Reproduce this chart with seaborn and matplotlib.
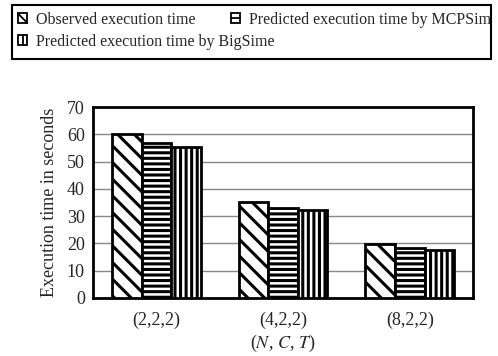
import matplotlib
matplotlib.use("Agg")
import matplotlib.pyplot as plt
import seaborn as sns
import pandas as pd
import numpy as np
from matplotlib.patches import Patch, Rectangle
from matplotlib.lines import Line2D
from matplotlib.legend_handler import HandlerBase

categories = ["(2,2,2)", "(4,2,2)", "(8,2,2)"]
series_names = ["Observed execution time",
                "Predicted execution time by MCPSim",
                "Predicted execution time by BigSime"]
observed = [60.1, 35.1, 19.7]
mcpsim = [57.0, 32.9, 18.3]
bigsime = [55.2, 32.1, 17.7]
hatches = ["\\\\", "---", "|||"]
legend_kinds = ["diag", "horiz", "vert"]

rows = []
for name, vals in zip(series_names, [observed, mcpsim, bigsime]):
    for c, v in zip(categories, vals):
        rows.append({"config": c, "series": name, "time": v})
df = pd.DataFrame(rows)

sns.set_style("white")
plt.rcParams["font.family"] = ["Liberation Serif", "DejaVu Serif"]
plt.rcParams["mathtext.fontset"] = "stix"
plt.rcParams["hatch.linewidth"] = 2.2
plt.rcParams["hatch.color"] = "black"

fig = plt.figure(figsize=(4.98, 3.56), dpi=100)
ax = fig.add_axes([0.187, 0.163, 0.763, 0.536])

sns.barplot(data=df, x="config", y="time", hue="series", order=categories,
            hue_order=series_names, palette=["white"] * 3, edgecolor="black",
            linewidth=2, width=0.70, ax=ax, legend=False, errorbar=None,
            saturation=1, zorder=3)

for cont, h in zip(ax.containers, hatches):
    for p in cont:
        p.set_hatch(h)
        p.set_facecolor("white")
        p.set_edgecolor("black")
        p.set_linewidth(2)

ax.set_ylim(0, 70)
ax.set_yticks(range(0, 71, 10))
ax.set_xlim(-0.5, 2.5)
ax.yaxis.grid(True, color="#888888", linewidth=1, zorder=0)
ax.set_axisbelow(True)
for s in ax.spines.values():
    s.set_color("black")
    s.set_linewidth(2)
ax.tick_params(axis="y", which="major", length=0, labelsize=13, pad=6)
ax.tick_params(axis="x", which="major", length=0, labelsize=13, pad=10)
ax.set_xticks([0.5, 1.5], minor=True)
ax.tick_params(axis="x", which="minor", direction="in", length=3, width=1, color="#666666")
ax.set_ylabel("Execution time in seconds", fontsize=13, labelpad=6)
ax.set_xlabel(r"($N$, $C$, $T$)", fontsize=13, labelpad=3)


class BoxHandler(HandlerBase):
    def __init__(self, kind):
        super().__init__()
        self.kind = kind

    def create_artists(self, legend, orig_handle, xdescent, ydescent,
                       width, height, fontsize, trans):
        s = min(width, height)
        x0 = -xdescent + (width - s) / 2
        y0 = -ydescent + (height - s) / 2
        rect = Rectangle((x0, y0), s, s, facecolor="white", edgecolor="black",
                         lw=1.3, transform=trans)
        if self.kind == "diag":
            xs, ys = [x0, x0 + s], [y0 + s, y0]
        elif self.kind == "horiz":
            xs, ys = [x0, x0 + s], [y0 + s / 2, y0 + s / 2]
        else:
            xs, ys = [x0 + s / 2, x0 + s / 2], [y0, y0 + s]
        line = Line2D(xs, ys, color="black", lw=1.3, transform=trans)
        return [rect, line]


handles = [Patch(facecolor="white", edgecolor="black", label=n) for n in series_names]
hmap = {h: BoxHandler(k) for h, k in zip(handles, legend_kinds)}

common = dict(frameon=False, fontsize=11.5, handlelength=0.6, handleheight=0.6,
              handletextpad=0.55, borderpad=0.3, borderaxespad=0, handler_map=hmap)
leg1 = fig.legend(handles[:2], series_names[:2], loc="upper left",
                  bbox_to_anchor=(13 / 498, 1 - 7 / 356), ncol=2,
                  columnspacing=2.2, **common)
leg2 = fig.legend(handles[2:], series_names[2:], loc="upper left",
                  bbox_to_anchor=(13 / 498, 1 - 29 / 356), ncol=1, **common)

frame = Rectangle((12 / 498, 1 - 59 / 356), 479 / 498, 54 / 356,
                  transform=fig.transFigure, facecolor="none", edgecolor="black",
                  linewidth=1.5)
fig.add_artist(frame)

fig.savefig("out.png", dpi=100)
